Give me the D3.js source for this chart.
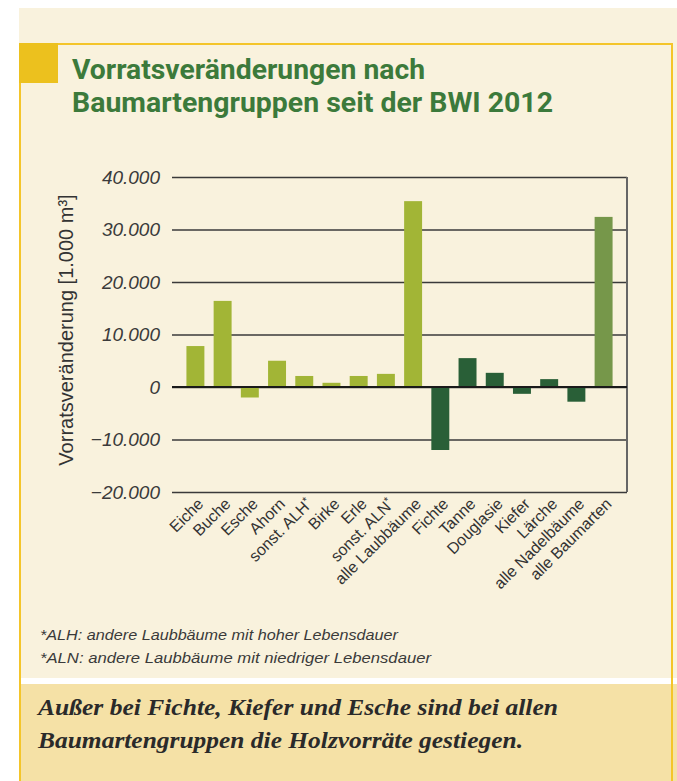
<!DOCTYPE html>
<html>
<head>
<meta charset="utf-8">
<script src="https://cdn.jsdelivr.net/npm/d3@7"></script>
<style>
  html, body { margin: 0; padding: 0; background: #fff; }
  svg { display: block; }
</style>
</head>
<body>
<div id="chart"></div>
<script>
// Baumartengruppen und Vorratsveränderung in 1.000 m³
const categories = ['Eiche', 'Buche', 'Esche', 'Ahorn', 'sonst. ALH*', 'Birke', 'Erle', 'sonst. ALN*',
    'alle Laubbäume', 'Fichte', 'Tanne', 'Douglasie', 'Kiefer', 'Lärche', 'alle Nadelbäume', 'alle Baumarten'];
const values = [7800, 16400, -2000, 5000, 2100, 800, 2100, 2500,
    35400, -12000, 5500, 2700, -1300, 1500, -2800, 32400];
const groups = ['laub', 'laub', 'laub', 'laub', 'laub', 'laub', 'laub', 'laub',
    'laub', 'nadel', 'nadel', 'nadel', 'nadel', 'nadel', 'nadel', 'gesamt'];
const yTicks = [-20000, -10000, 0, 10000, 20000, 30000, 40000];
const titleLines = ['Vorratsveränderungen nach', 'Baumartengruppen seit der BWI 2012'];
const footnotes = ['*ALH: andere Laubbäume mit hoher Lebensdauer', '*ALN: andere Laubbäume mit niedriger Lebensdauer'];
const summaryLines = ['Außer bei Fichte, Kiefer und Esche sind bei allen', 'Baumartengruppen die Holzvorräte gestiegen.'];
const yLabel = 'Vorratsveränderung [1.000 m³]';

const W = 677, H = 781;
const plot = { left: 172, right: 627, top: 177, bottom: 492 };

const svg = d3.select('#chart').append('svg')
    .attr('width', W)
    .attr('height', H);

// Hintergrundflächen
svg.append('rect').attr('x', 19).attr('y', 8).attr('width', W - 19).attr('height', 670).attr('fill', '#f9f2dd');
svg.append('rect').attr('x', 19).attr('y', 684).attr('width', W - 19).attr('height', H - 684).attr('fill', '#f5e1a6');
svg.append('rect').attr('x', 19).attr('y', 678).attr('width', W - 19).attr('height', 6).attr('fill', '#fff');
// gelber Rahmen
svg.append('rect').attr('x', 20).attr('y', 44).attr('width', 652).attr('height', H)
    .attr('fill', 'none').attr('stroke', '#f4c52a').attr('stroke-width', 2);
svg.append('rect').attr('x', 19).attr('y', 43).attr('width', 39).attr('height', 40).attr('fill', '#ecc11e');

// Titel
const titleWidths = [353, 481];
svg.selectAll('.title')
    .data(titleLines)
    .enter()
    .append('text')
    .attr('class', 'title')
    .attr('x', 72)
    .attr('y', (d, i) => 79 + i * 33)
    .attr('font-family', 'Roboto, sans-serif')
    .attr('font-weight', 'bold')
    .attr('font-size', 28)
    .attr('fill', '#3c7a3b')
    .attr('textLength', (d, i) => titleWidths[i])
    .attr('lengthAdjust', 'spacingAndGlyphs')
    .text(d => d);

// Skalen
const x = d3.scaleBand()
    .domain(categories)
    .range([plot.left, plot.right])
    .paddingInner(0.34)
    .paddingOuter(0.53);

const y = d3.scaleLinear()
    .domain([-20000, 40000])
    .range([plot.bottom, plot.top]);

const color = d3.scaleOrdinal()
    .domain(['laub', 'nadel', 'gesamt'])
    .range(['#a2b536', '#295f37', '#76974a']);

const de = d3.formatLocale({ decimal: ',', thousands: '.', grouping: [3], currency: ['', ' €'], minus: '−' });
const fmt = de.format(',d');

// y-Achse mit Gitterlinien
const yAxis = svg.append('g')
    .attr('transform', `translate(${plot.left},0)`)
    .call(d3.axisLeft(y).tickValues(yTicks).tickFormat(fmt)
        .tickSizeInner(-(plot.right - plot.left)).tickSizeOuter(0).tickPadding(12));
yAxis.select('.domain').remove();
yAxis.selectAll('line')
    .attr('stroke', '#3a3a3a')
    .attr('stroke-width', 1.6);
yAxis.selectAll('text')
    .attr('font-family', 'Liberation Sans, Arial, sans-serif')
    .attr('font-style', 'italic')
    .attr('font-size', 19)
    .attr('fill', '#3b3b3b');

// rechte Rahmenlinie
svg.append('line')
    .attr('x1', plot.right).attr('x2', plot.right)
    .attr('y1', plot.top).attr('y2', plot.bottom)
    .attr('stroke', '#666').attr('stroke-width', 2);

// Balken
svg.append('g')
    .selectAll('rect')
    .data(categories)
    .enter()
    .append('rect')
    .attr('x', d => x(d))
    .attr('width', x.bandwidth())
    .attr('y', (d, i) => y(Math.max(0, values[i])))
    .attr('height', (d, i) => Math.abs(y(values[i]) - y(0)))
    .attr('fill', (d, i) => color(groups[i]));

// Nulllinie
svg.append('line')
    .attr('x1', plot.left).attr('x2', plot.right)
    .attr('y1', y(0)).attr('y2', y(0))
    .attr('stroke', '#1a1a1a').attr('stroke-width', 2.2);

// x-Beschriftungen
const xLabels = svg.append('g')
    .selectAll('text')
    .data(categories)
    .enter()
    .append('text')
    .attr('transform', d => `translate(${x(d) + x.bandwidth() / 2 + 9},${plot.bottom + 13}) rotate(-45)`)
    .attr('text-anchor', 'end')
    .attr('font-family', 'Liberation Sans, Arial, sans-serif')
    .attr('font-size', 16)
    .attr('fill', '#333');
xLabels.each(function(d) {
    const t = d3.select(this);
    if (d.endsWith('*')) {
        t.append('tspan').text(d.slice(0, -1));
        t.append('tspan').attr('dy', '-0.45em').attr('font-size', 11).text('*');
    } else {
        t.text(d);
    }
});

// y-Achsentitel
svg.append('text')
    .attr('transform', `translate(73,330) rotate(-90)`)
    .attr('text-anchor', 'middle')
    .attr('font-family', 'Liberation Sans, Arial, sans-serif')
    .attr('font-size', 20)
    .attr('fill', '#333')
    .text(yLabel);

// Fußnoten
const footWidths = [358, 391];
svg.selectAll('.foot')
    .data(footnotes)
    .enter()
    .append('text')
    .attr('class', 'foot')
    .attr('x', 40)
    .attr('y', (d, i) => 640 + i * 23)
    .attr('font-family', 'Liberation Sans, Arial, sans-serif')
    .attr('font-style', 'italic')
    .attr('font-size', 15)
    .attr('fill', '#3a3a3a')
    .attr('textLength', (d, i) => footWidths[i])
    .attr('lengthAdjust', 'spacingAndGlyphs')
    .text(d => d);

// Fazit
const sumWidths = [520, 485];
svg.selectAll('.sum')
    .data(summaryLines)
    .enter()
    .append('text')
    .attr('class', 'sum')
    .attr('x', 38)
    .attr('y', (d, i) => 715 + i * 33)
    .attr('font-family', 'Liberation Serif, serif')
    .attr('font-style', 'italic')
    .attr('font-weight', 'bold')
    .attr('font-size', 23)
    .attr('fill', '#2a2a2a')
    .attr('textLength', (d, i) => sumWidths[i])
    .attr('lengthAdjust', 'spacingAndGlyphs')
    .text(d => d);
</script>
</body>
</html>
